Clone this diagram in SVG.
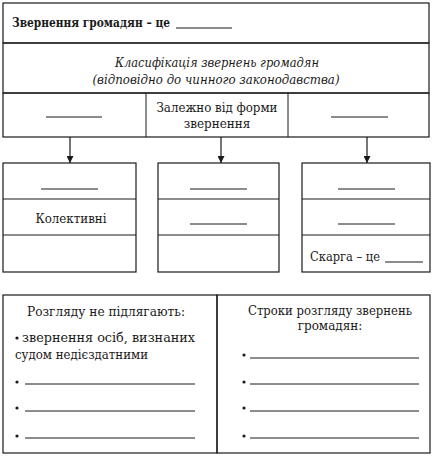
<svg xmlns="http://www.w3.org/2000/svg" width="432" height="457" viewBox="0 0 432 457">
<defs>
<style>
.b{fill:none;stroke:#1a1a1a;stroke-width:1.2}
.l{stroke:#1a1a1a;stroke-width:1}
text{fill:#1a1a1a}
.c{text-anchor:middle}
.bd{font-weight:bold}
.it{font-style:italic}
.c2{stroke:#1a1a1a;stroke-width:1.2;fill:none;marker-end:url(#ah)}
</style>
<marker id="ah" viewBox="0 0 10 10" refX="10" refY="5" markerWidth="7" markerHeight="7" markerUnits="userSpaceOnUse" orient="auto"><path d="M0,0 L10,5 L0,10 z" fill="#1a1a1a"/></marker>
</defs>
<rect width="432" height="457" fill="#fff"/>
<g font-family="DejaVu Serif, serif" font-size="12">
<g id="definition">
<rect class="b" x="3" y="3" width="426" height="40"/>
<text class="bd" x="12" y="27" textLength="158" lengthAdjust="spacingAndGlyphs">Звернення громадян – це</text>
<line class="l" x1="176" y1="28" x2="232" y2="28"/>
</g>
<g id="classification">
<rect class="b" x="3" y="43" width="426" height="50"/>
<text class="it c" x="217" y="67" textLength="204" lengthAdjust="spacingAndGlyphs">Класифікація звернень громадян</text>
<text class="it c" x="216" y="84" textLength="247" lengthAdjust="spacingAndGlyphs">(відповідно до чинного законодавства)</text>
</g>
<g id="criteria">
<rect class="b" x="3" y="93" width="426" height="44"/>
<line class="l" x1="146" y1="93" x2="146" y2="137"/>
<line class="l" x1="288" y1="93" x2="288" y2="137"/>
<line class="l" x1="46" y1="117" x2="102" y2="117"/>
<text class="c" x="217" y="112" textLength="121" lengthAdjust="spacingAndGlyphs">Залежно від форми</text>
<text class="c" x="217" y="128">звернення</text>
<line class="l" x1="331" y1="117" x2="388" y2="117"/>
</g>
<g id="connectors">
<line class="c2" x1="70" y1="137" x2="70" y2="163"/>
<line class="c2" x1="221" y1="137" x2="221" y2="163"/>
<line class="c2" x1="367" y1="137" x2="367" y2="163"/>
</g>
<g id="box-left">
<rect class="b" x="3" y="163" width="133" height="109"/>
<line class="l" x1="3" y1="199" x2="136" y2="199"/>
<line class="l" x1="3" y1="235" x2="136" y2="235"/>
<line class="l" x1="41" y1="189" x2="98" y2="189"/>
<text class="c" x="71" y="223" textLength="71" lengthAdjust="spacingAndGlyphs">Колективні</text>
</g>
<g id="box-middle">
<rect class="b" x="158" y="163" width="121" height="109"/>
<line class="l" x1="158" y1="199" x2="279" y2="199"/>
<line class="l" x1="158" y1="235" x2="279" y2="235"/>
<line class="l" x1="190" y1="189" x2="247" y2="189"/>
<line class="l" x1="190" y1="224" x2="247" y2="224"/>
</g>
<g id="box-right">
<rect class="b" x="302" y="163" width="128" height="109"/>
<line class="l" x1="302" y1="199" x2="430" y2="199"/>
<line class="l" x1="302" y1="235" x2="430" y2="235"/>
<line class="l" x1="338" y1="189" x2="395" y2="189"/>
<line class="l" x1="338" y1="224" x2="395" y2="224"/>
<text x="310" y="261" textLength="70" lengthAdjust="spacingAndGlyphs">Скарга – це</text>
<line class="l" x1="385" y1="262" x2="423" y2="262"/>
</g>
<g id="not-considered">
<rect class="b" x="3" y="295" width="214" height="158"/>
<text class="c" x="106" y="316" textLength="158" lengthAdjust="spacingAndGlyphs">Розгляду не підлягають:</text>
<circle cx="17" cy="338" r="1.6" fill="#1a1a1a"/>
<text x="22" y="342" textLength="173" lengthAdjust="spacingAndGlyphs">звернення осіб, визнаних</text>
<text x="15" y="359" textLength="133" lengthAdjust="spacingAndGlyphs">судом недієздатними</text>
<circle cx="17" cy="382" r="1.6" fill="#1a1a1a"/>
<line class="l" x1="25" y1="384" x2="195" y2="384"/>
<circle cx="17" cy="408" r="1.6" fill="#1a1a1a"/>
<line class="l" x1="25" y1="411" x2="195" y2="411"/>
<circle cx="17" cy="436" r="1.6" fill="#1a1a1a"/>
<line class="l" x1="25" y1="438" x2="195" y2="438"/>
</g>
<g id="terms">
<rect class="b" x="217" y="295" width="213" height="158"/>
<text class="c" x="330" y="315" textLength="164" lengthAdjust="spacingAndGlyphs">Строки розгляду звернень</text>
<text class="c" x="330" y="330">громадян:</text>
<circle cx="244" cy="355" r="1.6" fill="#1a1a1a"/>
<line class="l" x1="250" y1="358" x2="419" y2="358"/>
<circle cx="244" cy="382" r="1.6" fill="#1a1a1a"/>
<line class="l" x1="250" y1="384" x2="419" y2="384"/>
<circle cx="244" cy="408" r="1.6" fill="#1a1a1a"/>
<line class="l" x1="250" y1="411" x2="419" y2="411"/>
<circle cx="244" cy="436" r="1.6" fill="#1a1a1a"/>
<line class="l" x1="250" y1="438" x2="419" y2="438"/>
</g>
</g>
</svg>
